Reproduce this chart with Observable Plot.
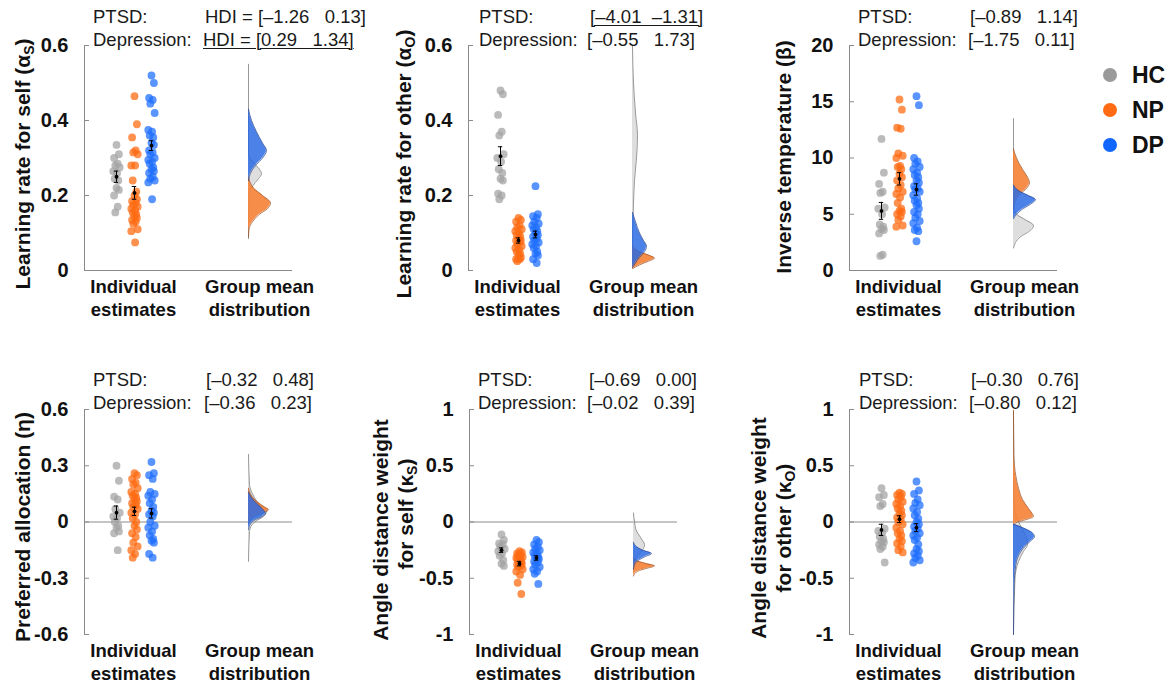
<!DOCTYPE html>
<html><head><meta charset="utf-8">
<script src="https://cdn.jsdelivr.net/npm/d3@7"></script>
<script src="https://cdn.jsdelivr.net/npm/@observablehq/plot@0.6"></script>
<style>
body{margin:0;background:#fff;overflow:hidden}
#root{position:relative;width:1176px;height:686px;font-family:"Liberation Sans",Arial,sans-serif}
.panel{position:absolute}
.hdi{position:absolute;font-size:18.5px;line-height:20px;color:#1a1a1a;white-space:pre}
.u{text-decoration:underline;text-underline-offset:2px;text-decoration-thickness:1px}
.legdot{position:absolute;width:14px;height:14px;border-radius:50%}
.legtxt{position:absolute;font-size:23px;font-weight:bold;line-height:26px;color:#111}
</style></head><body><div id="root"></div>
<script>
const groups = ["HC", "NP", "DP"];

// ---- Panel 1: learning rate for self ----
const aSelfHC = [0.335, 0.31, 0.30, 0.285, 0.28, 0.275, 0.265, 0.26, 0.245, 0.24, 0.22, 0.215, 0.20, 0.17, 0.155];
const aSelfNP = [0.465, 0.39, 0.355, 0.32, 0.315, 0.31, 0.28, 0.28, 0.24, 0.21, 0.20, 0.19, 0.185, 0.18, 0.175, 0.17, 0.165, 0.16, 0.155, 0.15, 0.145, 0.14, 0.135, 0.13, 0.125, 0.11, 0.105, 0.075];
const aSelfDP = [0.52, 0.50, 0.46, 0.455, 0.445, 0.42, 0.375, 0.37, 0.36, 0.355, 0.34, 0.335, 0.32, 0.315, 0.31, 0.30, 0.295, 0.29, 0.285, 0.275, 0.27, 0.265, 0.26, 0.25, 0.245, 0.24, 0.235, 0.19];
const aSelfMean = [0.25, 0.207, 0.333];
const aSelfSE = [0.015, 0.017, 0.013];
const aSelfDensHC = [[0.55,0],[0.31,0],[0.29,4],[0.27,11],[0.258,13],[0.245,10],[0.225,4],[0.20,0.5],[0.085,0]];
const aSelfDensNP = [[0.25,0],[0.22,5],[0.20,14],[0.18,22],[0.165,19],[0.15,11],[0.13,4],[0.11,0.5],[0.09,0]];
const aSelfDensDP = [[0.43,0],[0.40,3],[0.37,8],[0.34,14],[0.32,18],[0.30,14],[0.28,7],[0.26,2],[0.24,0]];

// ---- Panel 2: learning rate for other ----
const aOtherHC = [0.48, 0.47, 0.415, 0.37, 0.36, 0.31, 0.30, 0.29, 0.27, 0.26, 0.245, 0.24, 0.205, 0.20, 0.19];
const aOtherNP = [0.14, 0.135, 0.13, 0.12, 0.115, 0.11, 0.105, 0.10, 0.095, 0.09, 0.085, 0.08, 0.08, 0.075, 0.07, 0.065, 0.06, 0.055, 0.05, 0.045, 0.04, 0.035, 0.03, 0.03, 0.025];
const aOtherDP = [0.225, 0.15, 0.145, 0.14, 0.13, 0.125, 0.12, 0.115, 0.11, 0.105, 0.10, 0.095, 0.09, 0.085, 0.08, 0.075, 0.07, 0.065, 0.06, 0.05, 0.045, 0.04, 0.03, 0.02];
const aOtherMean = [0.305, 0.08, 0.096];
const aOtherSE = [0.025, 0.007, 0.009];
const aOtherDensHC = [[0.60,0],[0.5,1],[0.42,3],[0.36,5],[0.30,4],[0.24,2],[0.18,1],[0.12,0.3],[0.01,0]];
const aOtherDensNP = [[0.065,0],[0.05,7],[0.04,17],[0.033,22],[0.025,16],[0.015,7],[0.005,0]];
const aOtherDensDP = [[0.155,0],[0.13,3],[0.10,7],[0.08,11],[0.065,14],[0.05,12],[0.035,7],[0.02,3],[0.008,0]];

// ---- Panel 3: inverse temperature ----
const betaHC = [11.7, 8.7, 7.7, 7.0, 6.9, 5.6, 5.5, 5.0, 4.1, 3.9, 3.7, 3.6, 3.3, 1.4, 1.3];
const betaNP = [15.2, 14.3, 12.7, 12.6, 10.4, 10.2, 10.0, 9.3, 9.2, 9.0, 8.6, 8.3, 8.0, 7.6, 7.3, 7.0, 6.8, 6.5, 6.0, 5.5, 5.3, 5.2, 5.0, 4.8, 4.5, 4.0, 3.9];
const betaDP = [15.5, 14.7, 10.0, 9.7, 9.5, 9.2, 9.0, 8.7, 8.5, 8.3, 8.0, 7.8, 7.5, 7.3, 7.2, 7.0, 6.7, 6.4, 6.2, 6.0, 5.8, 5.5, 5.2, 5.0, 4.7, 4.4, 4.2, 3.8, 3.6, 3.5, 2.6];
const betaMean = [5.3, 8.15, 7.2];
const betaSE = [0.75, 0.55, 0.5];
const betaDensHC = [[13.5,0],[6,0],[5.3,1],[5,3],[4.5,12],[4,20],[3.5,16],[3,7],[2.5,2],[2,0]];
const betaDensNP = [[10.8,0],[10,3],[9,9],[8.3,14],[7.8,16],[7.3,13],[6.8,7],[6.2,2],[5.5,0]];
const betaDensDP = [[7.6,0],[7.1,5],[6.7,14],[6.3,22],[5.9,17],[5.4,8],[5,3],[4.6,0]];

// ---- Panel 4: preferred allocation ----
const etaHC = [0.30, 0.22, 0.135, 0.12, 0.07, 0.05, 0.03, 0.02, 0.0, -0.02, -0.03, -0.05, -0.06, -0.15];
const etaNP = [0.26, 0.25, 0.23, 0.21, 0.20, 0.18, 0.16, 0.15, 0.14, 0.13, 0.12, 0.11, 0.10, 0.09, 0.08, 0.07, 0.05, 0.04, 0.02, 0.0, -0.02, -0.04, -0.06, -0.08, -0.11, -0.13, -0.15, -0.17, -0.19];
const etaDP = [0.32, 0.26, 0.25, 0.23, 0.16, 0.15, 0.14, 0.12, 0.10, 0.08, 0.06, 0.05, 0.04, 0.03, 0.0, -0.02, -0.03, -0.05, -0.07, -0.09, -0.10, -0.11, -0.17, -0.19];
const etaMean = [0.05, 0.057, 0.046];
const etaSE = [0.035, 0.022, 0.025];
const etaDensHC = [[0.36,0],[0.2,1],[0.15,4],[0.10,10],[0.06,18],[0.03,15],[0.0,6],[-0.05,1],[-0.21,0]];
const etaDensNP = [[0.18,0],[0.14,3],[0.11,8],[0.08,16],[0.065,20],[0.05,15],[0.03,6],[0.01,2],[-0.01,0]];
const etaDensDP = [[0.16,0],[0.13,3],[0.10,8],[0.07,14],[0.045,17],[0.03,14],[0.01,6],[-0.01,2],[-0.04,0]];

// ---- Panel 5: angle distance weight for self ----
const kSelfHC = [-0.11, -0.16, -0.19, -0.2, -0.22, -0.24, -0.26, -0.28, -0.3, -0.34, -0.37, -0.39];
const kSelfNP = [-0.26, -0.27, -0.28, -0.29, -0.3, -0.31, -0.32, -0.33, -0.34, -0.35, -0.36, -0.37, -0.38, -0.39, -0.40, -0.42, -0.44, -0.47, -0.54, -0.64];
const kSelfDP = [-0.16, -0.18, -0.2, -0.22, -0.24, -0.25, -0.27, -0.28, -0.3, -0.31, -0.32, -0.33, -0.35, -0.36, -0.38, -0.40, -0.42, -0.44, -0.46, -0.55];
const kSelfMean = [-0.25, -0.37, -0.32];
const kSelfSE = [0.02, 0.02, 0.02];
const kSelfDensHC = [[0.08,0],[0.0,1],[-0.08,3],[-0.15,8],[-0.2,11],[-0.25,9],[-0.3,4],[-0.36,1],[-0.41,0]];
const kSelfDensNP = [[-0.32,0],[-0.35,5],[-0.37,13],[-0.39,21],[-0.41,14],[-0.43,6],[-0.46,1],[-0.48,0]];
const kSelfDensDP = [[-0.18,0],[-0.22,3],[-0.25,9],[-0.28,18],[-0.31,11],[-0.34,5],[-0.38,1],[-0.42,0]];

// ---- Panel 6: angle distance weight for other ----
const kOtherHC = [0.30, 0.24, 0.22, 0.16, 0.14, -0.06, -0.08, -0.1, -0.13, -0.15, -0.17, -0.18, -0.2, -0.22, -0.24, -0.36];
const kOtherNP = [0.26, 0.25, 0.24, 0.22, 0.2, 0.18, 0.16, 0.14, 0.12, 0.1, 0.08, 0.06, 0.04, 0.02, 0.0, -0.02, -0.05, -0.08, -0.1, -0.12, -0.15, -0.17, -0.19, -0.22, -0.25, -0.27];
const kOtherDP = [0.36, 0.28, 0.25, 0.2, 0.17, 0.15, 0.12, 0.09, 0.06, 0.03, 0.0, -0.02, -0.04, -0.06, -0.08, -0.1, -0.12, -0.14, -0.16, -0.2, -0.24, -0.26, -0.28, -0.3, -0.32, -0.34, -0.36];
const kOtherMean = [-0.07, 0.025, -0.05];
const kOtherSE = [0.05, 0.03, 0.035];
const kOtherDensHC = [[0.99,0],[0.2,0.5],[0.05,3],[-0.05,8],[-0.14,13],[-0.2,14],[-0.26,10],[-0.35,5],[-0.5,1.5],[-1.0,0]];
const kOtherDensNP = [[0.99,0],[0.6,0.4],[0.4,2.5],[0.3,5],[0.2,9],[0.12,15],[0.07,19],[0.05,20],[0.02,12],[0.0,4],[-0.03,0]];
const kOtherDensDP = [[-0.02,0],[-0.05,9],[-0.09,18],[-0.13,21],[-0.17,17],[-0.22,11],[-0.3,5],[-0.4,2],[-0.55,0.6],[-1.0,0]];

// ---- HDI annotations ----
const hdiPTSD = ["HDI = [\u20131.26   0.13]", "[\u20134.01  \u20131.31]", "[\u20130.89   1.14]", "[\u20130.32   0.48]", "[\u20130.69   0.00]", "[\u20130.30   0.76]"];
const hdiDep  = ["HDI = [0.29   1.34]", "[\u20130.55   1.73]", "[\u20131.75   0.11]", "[\u20130.36   0.23]", "[\u20130.02   0.39]", "[\u20130.80   0.12]"];
const hdiPTSDsig = [false, true, false, false, false, false];
const hdiDepSig  = [true, false, false, false, false, false];

const ticks01 = [0, 0.2, 0.4, 0.6];
const ticksBeta = [0, 5, 10, 15, 20];
const ticksEta = [-0.6, -0.3, 0, 0.3, 0.6];
const ticksK = [-1, -0.5, 0, 0.5, 1];

// ---- styling / layout ----
const FONT = "'Liberation Sans', Arial, sans-serif";
const dotColor = {HC: "#a3a3a3", NP: "#ff6a12", DP: "#1f6fff"};
const densFill = {HC: "#d6d6d6", NP: "#f5843a", DP: "#2a6ae4"};
const densStroke = {HC: "#6e6e6e", NP: "#9c4a17", DP: "#1e3f8c"};
const densOpacity = {HC: 0.8, NP: 0.92, DP: 0.84};
const legendColor = {HC: "#9a9a9a", NP: "#ff6a13", DP: "#0f67ff"};
const xPos = {HC: 32, NP: 50, DP: 67, dist: 164};
const jit = [0, 2.4, -2.4, 1.2, -1.2, 3.2, -3.2, 0.6, -1.8, 1.8];
const AX = "#8a8a8a";

const panels = [
  {left: 0, top: 0, ml: 84, dom: [0, 0.6], ticks: ticks01, base: true,
   dots: [aSelfHC, aSelfNP, aSelfDP], means: aSelfMean, se: aSelfSE, dens: [aSelfDensHC, aSelfDensNP, aSelfDensDP],
   title: [{x: 22, y: 164, parts: ["Learning rate for self (\u03b1", "S", ")"]}]},
  {left: 360, top: 0, ml: 108, dom: [0, 0.6], ticks: ticks01, base: false,
   dots: [aOtherHC, aOtherNP, aOtherDP], means: aOtherMean, se: aOtherSE, dens: [aOtherDensHC, aOtherDensNP, aOtherDensDP],
   title: [{x: 43, y: 164, parts: ["Learning rate for other (\u03b1", "O", ")"]}]},
  {left: 735, top: 0, ml: 114, dom: [0, 20], ticks: ticksBeta, base: true,
   dots: [betaHC, betaNP, betaDP], means: betaMean, se: betaSE, dens: [betaDensHC, betaDensNP, betaDensDP],
   title: [{x: 48, y: 157, parts: ["Inverse temperature (\u03b2)"]}]},
  {left: 0, top: 364, ml: 84, dom: [-0.6, 0.6], ticks: ticksEta, base: true,
   dots: [etaHC, etaNP, etaDP], means: etaMean, se: etaSE, dens: [etaDensHC, etaDensNP, etaDensDP],
   title: [{x: 22, y: 163, parts: ["Preferred allocation (\u03b7)"]}]},
  {left: 360, top: 364, ml: 109, dom: [-1, 1], ticks: ticksK, base: true,
   dots: [kSelfHC, kSelfNP, kSelfDP], means: kSelfMean, se: kSelfSE, dens: [kSelfDensHC, kSelfDensNP, kSelfDensDP],
   title: [{x: 20, y: 166, parts: ["Angle distance weight"]}, {x: 45, y: 150, parts: ["for self (\u03ba", "S", ")"]}]},
  {left: 735, top: 364, ml: 114, dom: [-1, 1], ticks: ticksK, base: true,
   dots: [kOtherHC, kOtherNP, kOtherDP], means: kOtherMean, se: kOtherSE, dens: [kOtherDensHC, kOtherDensNP, kOtherDensDP],
   title: [{x: 23, y: 164, parts: ["Angle distance weight"]}, {x: 48, y: 164, parts: ["for other (\u03ba", "O", ")"]}]}
];

const root = document.getElementById("root");

function makePanel(p) {
  const AXW = 208;
  const W = p.ml + AXW + 12, H = 325;
  const dotData = [], meanData = [];
  groups.forEach((g, gi) => {
    p.dots[gi].forEach((v, i) => dotData.push({g, x: xPos[g] + jit[i % jit.length], y: v}));
    const m = p.means[gi], s = p.se[gi];
    meanData.push({g, x: xPos[g], m, lo: m - s, hi: m + s});
  });
  const densMarks = [];
  groups.forEach((g, gi) => {
    const d = p.dens[gi].map(([v, w]) => ({v, w}));
    densMarks.push(Plot.areaX(d, {y: "v", x1: () => xPos.dist, x2: r => xPos.dist + r.w,
      fill: densFill[g], fillOpacity: densOpacity[g], curve: "monotone-y"}));
    densMarks.push(Plot.lineX(d, {y: "v", x: r => xPos.dist + r.w, stroke: densStroke[g],
      strokeWidth: 0.8, strokeOpacity: 0.9, curve: "monotone-y"}));
  });
  const marks = [
    Plot.ruleX([0], {y1: p.dom[0], y2: p.dom[1], stroke: AX}),
    Plot.ruleY(p.ticks, {x1: 0, x2: 5, stroke: AX}),
    p.base ? Plot.ruleY([0], {x1: 0, x2: AXW, stroke: AX}) : null,
    Plot.axisY(p.ticks, {tickSize: 0, tickPadding: 16, tickFormat: d => String(d), fontSize: 20, fontWeight: "bold", label: null, fill: "#111"}),
    ...densMarks,
    Plot.dot(dotData, {x: "x", y: "y", r: 3.9, fill: d => dotColor[d.g], fillOpacity: 0.74, stroke: "none"}),
    Plot.ruleX(meanData, {x: "x", y1: "lo", y2: "hi", stroke: "#000", strokeWidth: 1}),
    Plot.ruleY(meanData, {y: "lo", x1: d => d.x - 2.2, x2: d => d.x + 2.2, stroke: "#000", strokeWidth: 1}),
    Plot.ruleY(meanData, {y: "hi", x1: d => d.x - 2.2, x2: d => d.x + 2.2, stroke: "#000", strokeWidth: 1}),
    Plot.dot(meanData, {x: "x", y: "m", r: 1.9, fill: "#000"}),
    Plot.text(["Individual"], {x: () => 49, y: () => p.dom[0], dy: 17, text: d => d, fontSize: 18.5, fontWeight: "bold", fill: "#111"}),
    Plot.text(["estimates"], {x: () => 49, y: () => p.dom[0], dy: 40, text: d => d, fontSize: 18.5, fontWeight: "bold", fill: "#111"}),
    Plot.text(["Group mean"], {x: () => 175, y: () => p.dom[0], dy: 17, text: d => d, fontSize: 18.5, fontWeight: "bold", fill: "#111"}),
    Plot.text(["distribution"], {x: () => 175, y: () => p.dom[0], dy: 40, text: d => d, fontSize: 18.5, fontWeight: "bold", fill: "#111"})
  ].filter(Boolean);
  const chart = Plot.plot({
    width: W, height: H,
    marginLeft: p.ml, marginRight: W - p.ml - AXW, marginTop: 45, marginBottom: H - 45 - 225,
    x: {domain: [0, AXW], axis: null},
    y: {domain: p.dom},
    style: {fontFamily: FONT, overflow: "visible", background: "transparent"},
    marks
  });
  const svg = d3.select(chart);
  p.title.forEach(t => {
    const txt = svg.append("text")
      .attr("transform", `translate(${t.x},${t.y}) rotate(-90)`)
      .attr("text-anchor", "middle").attr("dy", "0.36em")
      .attr("font-family", FONT).attr("font-size", 21).attr("font-weight", "bold").attr("fill", "#111");
    txt.append("tspan").text(t.parts[0]);
    if (t.parts.length > 1) {
      txt.append("tspan").attr("font-size", 14).attr("dy", 4).text(t.parts[1]);
      txt.append("tspan").attr("dy", -4).text(t.parts[2]);
    }
  });
  const wrap = document.createElement("div");
  wrap.className = "panel";
  wrap.style.left = p.left + "px";
  wrap.style.top = p.top + "px";
  wrap.appendChild(chart);
  root.appendChild(wrap);
}
panels.forEach(makePanel);

// HDI text blocks
const hdiLayout = [
  {lx: 93, vx: [205, 203], y: [17, 40]},
  {lx: 479, vx: [590, 587], y: [17, 40]},
  {lx: 858, vx: [970, 968], y: [17, 40]},
  {lx: 93, vx: [206, 204], y: [380, 403]},
  {lx: 478, vx: [589, 587], y: [380, 403]},
  {lx: 859, vx: [971, 969], y: [380, 403]}
];
function addText(txt, x, yc, underline) {
  const d = document.createElement("div");
  d.className = "hdi" + (underline ? " u" : "");
  d.style.left = x + "px";
  d.style.top = (yc - 10) + "px";
  d.textContent = txt;
  root.appendChild(d);
}
hdiLayout.forEach((L, i) => {
  addText("PTSD:", L.lx, L.y[0], false);
  addText("Depression:", L.lx, L.y[1], false);
  addText(hdiPTSD[i], L.vx[0], L.y[0], hdiPTSDsig[i]);
  addText(hdiDep[i], L.vx[1], L.y[1], hdiDepSig[i]);
});

// legend
groups.forEach((g, i) => {
  const cy = 75 + i * 35;
  const dot = document.createElement("div");
  dot.className = "legdot";
  dot.style.left = (1110 - 7) + "px";
  dot.style.top = (cy - 7) + "px";
  dot.style.background = legendColor[g];
  root.appendChild(dot);
  const t = document.createElement("div");
  t.className = "legtxt";
  t.style.left = "1132px";
  t.style.top = (cy - 13) + "px";
  t.textContent = g;
  root.appendChild(t);
});
</script></body></html>
